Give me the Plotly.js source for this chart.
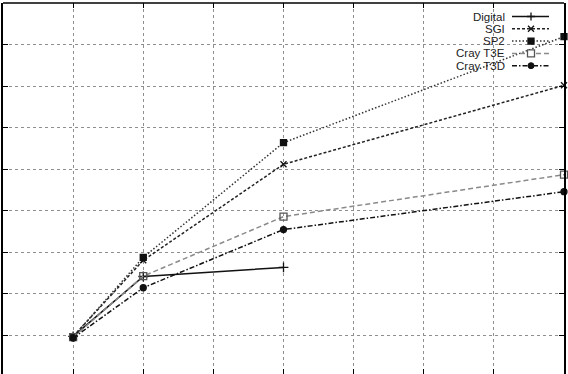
<!DOCTYPE html>
<html>
<head>
<meta charset="utf-8">
<script src="https://cdn.plot.ly/plotly-3.0.1.min.js"></script>
<style>html,body{margin:0;padding:0;background:#fff;}#chart{width:568px;height:374px;}</style>
</head>
<body>
<div id="chart"></div>
<script>
// Data (x = processors, y = speedup)
const procs = [1, 2, 4, 8];
const digitalProcs = [1, 2, 4];
const digital = [0.98, 2.42, 2.64];
const sgi = [0.98, 2.81, 5.12, 7.02];
const sp2 = [0.97, 2.88, 5.64, 8.19];
const crayT3E = [0.96, 2.43, 3.86, 4.87];
const crayT3D = [0.94, 2.15, 3.55, 4.46];
const seriesNames = ['Digital', 'SGI', 'SP2', 'Cray T3E', 'Cray T3D'];

const W = 568, H = 374, ML = 3, MR = 4, MT = 3, MB = 0;
const PW = W - ML - MR, PH = H - MT - MB;
const px = x => (x - ML) / PW;
const py = y => (H - MB - y) / PH;

const styles = [
  {color: '#111', dash: 'solid', sym: 'cross-thin', msize: 7, mcolor: '#111'},
  {color: '#222', dash: '3px,2px', sym: 'x-thin', msize: 6, mcolor: '#111'},
  {color: '#333', dash: '1.5px,2px', sym: 'square', msize: 6, mcolor: '#111'},
  {color: '#8a8a8a', dash: '5px,3px', sym: 'square-open', msize: 7, mcolor: '#555'},
  {color: '#111', dash: '5px,2px,1.5px,2px', sym: 'circle', msize: 6, mcolor: '#111'}
];
const xs = [digitalProcs, procs, procs, procs, procs];
const ys = [digital, sgi, sp2, crayT3E, crayT3D];

const traces = ys.map((y, i) => ({
  x: xs[i], y: y, type: 'scatter', mode: 'lines+markers', name: seriesNames[i],
  line: {color: styles[i].color, width: 1.5, dash: styles[i].dash},
  marker: {symbol: styles[i].sym, size: styles[i].msize, color: styles[i].mcolor,
           line: {color: styles[i].mcolor, width: 1.3}},
  showlegend: false, cliponaxis: false
}));

const shapes = [
  // top border
  {type: 'line', xref: 'paper', yref: 'paper', x0: 0, x1: 1, y0: 1, y1: 1,
   line: {color: '#000', width: 1.6}, layer: 'above'},
  // key area blanks the grid
  {type: 'rect', xref: 'paper', yref: 'paper', x0: px(445), x1: 1, y0: py(76), y1: 1,
   fillcolor: '#fff', line: {width: 0}, layer: 'between'}
];
const annotations = [];
const rowY = [16.5, 28.8, 41.1, 53.4, 65.7];
const markerPaths = {
  'cross-thin': 'M-4,0H4M0,-4V4',
  'x-thin': 'M-3,-3L3,3M-3,3L3,-3',
  'square': 'M-3,-3H3V3H-3Z',
  'square-open': 'M-3.5,-3.5H3.5V3.5H-3.5Z'
};
seriesNames.forEach((n, i) => {
  const yy = py(rowY[i]);
  annotations.push({xref: 'paper', yref: 'paper', x: px(507), y: yy, xanchor: 'right', yanchor: 'middle',
    text: n, showarrow: false, font: {family: 'Liberation Sans, Arial, sans-serif', size: 11.5, color: '#222'}});
  shapes.push({type: 'line', xref: 'paper', yref: 'paper', x0: px(512), x1: px(549), y0: yy, y1: yy,
    line: {color: styles[i].color, width: 1.5, dash: styles[i].dash}, layer: 'above'});
  const s = styles[i].sym;
  if (s === 'circle') {
    shapes.push({type: 'circle', xref: 'paper', yref: 'paper', xsizemode: 'pixel', ysizemode: 'pixel',
      xanchor: px(531), yanchor: yy, x0: -3, x1: 3, y0: -3, y1: 3,
      fillcolor: styles[i].mcolor, line: {color: styles[i].mcolor, width: 1}, layer: 'above'});
  } else {
    const filled = (s === 'square');
    shapes.push({type: 'path', xref: 'paper', yref: 'paper', xsizemode: 'pixel', ysizemode: 'pixel',
      xanchor: px(531), yanchor: yy, path: markerPaths[s],
      fillcolor: filled ? styles[i].mcolor : (s === 'square-open' ? '#fff' : 'rgba(0,0,0,0)'),
      line: {color: styles[i].mcolor, width: 1.3}, layer: 'above'});
  }
});

const layout = {
  width: W, height: H,
  margin: {l: ML, r: MR, t: MT, b: MB, pad: 0},
  paper_bgcolor: '#fff', plot_bgcolor: '#fff',
  showlegend: false,
  xaxis: {range: [0, 8], dtick: 1, tick0: 0, showticklabels: false, showgrid: true,
    gridcolor: '#8f8f8f', griddash: 'dot', gridwidth: 1, zeroline: false,
    ticks: 'inside', ticklen: 5, tickcolor: '#000', tickwidth: 1, showline: false, mirror: 'ticks'},
  yaxis: {range: [0.075, 9], dtick: 1, tick0: 0, showticklabels: false, showgrid: true,
    gridcolor: '#8f8f8f', griddash: 'dot', gridwidth: 1, zeroline: false,
    ticks: 'inside', ticklen: 5, tickcolor: '#000', tickwidth: 1,
    showline: true, linecolor: '#000', linewidth: 1.6, mirror: 'ticks'},
  shapes: shapes,
  annotations: annotations
};
Plotly.newPlot('chart', traces, layout, {displayModeBar: false, staticPlot: true});
</script>
</body>
</html>
